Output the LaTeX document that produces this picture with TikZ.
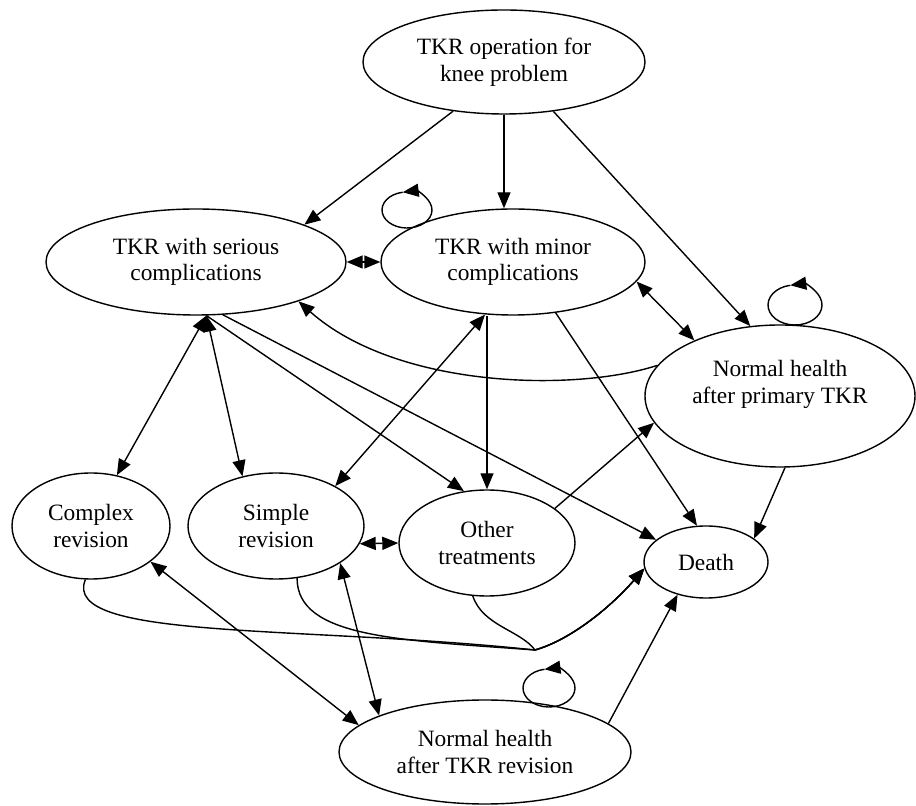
\documentclass[tikz,border=0pt]{standalone}
\usepackage{fontspec}
\setmainfont{Liberation Serif}
\usetikzlibrary{shapes.geometric,arrows.meta}

\begin{document}
\begin{tikzpicture}[x=0.5pt,y=-0.5pt, line width=0.7pt,
    >={Triangle[length=8pt,width=6.5pt]},
    state/.style={ellipse, draw, inner sep=0pt, align=center, font=\fontsize{11.7pt}{13.3pt}\selectfont},]
    \useasboundingbox (0,0) rectangle (916,806);
    %Nodes
    \node[state, minimum width=141pt, minimum height=52pt] (op) at (504,62) {TKR operation for\\knee problem};
    \node[state, minimum width=150pt, minimum height=53pt] (serious) at (196,262) {TKR with serious\\complications};
    \node[state, minimum width=132pt, minimum height=53pt] (minor) at (513,262) {TKR with minor\\complications};
    \node[state, minimum width=135pt, minimum height=71pt] (primary) at (780,396) {Normal health\\after primary TKR\rule[-14pt]{0pt}{0pt}};
    \node[state, minimum width=79pt, minimum height=53pt] (complex) at (91,526) {Complex\\revision};
    \node[state, minimum width=88pt, minimum height=53pt] (simple) at (276,526) {Simple\\revision};
    \node[state, minimum width=88pt, minimum height=53pt] (other) at (487,543) {Other\\treatments};
    \node[state, minimum width=62pt, minimum height=36pt] (death) at (706,562) {Death};
    \node[state, minimum width=146pt, minimum height=52pt] (revision) at (485,752) {Normal health\\after TKR revision};
    \coordinate (minorloop) at (407,210);
    \coordinate (primaryloop) at (795,305);
    \coordinate (revisionloop) at (549,688);
    \coordinate (joint) at (535,650);

    %Lines
    \draw[->] (op.224) -- (serious.19);
    \draw[->] (op.south) -- (op.south |- minor.north);
    \draw[->] (op.-45) -- (primary.113);
    \draw[<->] (serious.east) -- (minor.west);
    \draw[<->] (minor.-9) -- (primary.147);
    \draw[->] (primary.166) .. controls +(-83,27) and +(98,87) .. (serious.-21);
    \draw[<->] (serious.-79) -- (complex.63);
    \draw[<->] (serious.-79) -- (simple.124);
    \draw[->] (serious.-79) -- (other.114);
    \draw[->] (serious.-63) -- (death.156);
    \draw[<->] (minor.-118) -- (simple.34);
    \draw[->] (other.north |- minor.south) -- (other.north);
    \draw[->] (minor.-50) -- (death.104);
    \draw[->] (primary.-86) -- (death.26);
    \draw[->] (other.27) -- (primary.192);
    \draw[<->] (simple.-12) -- (other.west);
    \draw[<->] (complex.-31) -- (revision.168);
    \draw[<->] (simple.-30) -- (revision.161);
    \draw[->] (revision.13) -- (death.-131);

    % curves into death
    \draw[->] (complex.-96) .. controls +(-25,61) and +(-235,-25) .. (joint) .. controls +(35,-10) and +(-35,40) .. (death.186);
    \draw[->] (simple.-68) .. controls +(0,60) and +(-135,-10) .. (joint) .. controls +(35,-10) and +(-35,40) .. (death.186);
    \draw[->] (other.-105) .. controls +(10,30) and +(-15,-20) .. (joint) .. controls +(35,-10) and +(-35,40) .. (death.186);

    % self loops
    \draw[->] ([shift={(260:25 and 18)}]minorloop) arc[start angle=260, end angle=-100, x radius=25, y radius=18];
    \draw[->] ([shift={(260:27 and 20)}]primaryloop) arc[start angle=260, end angle=-100, x radius=27, y radius=20];
    \draw[->] ([shift={(260:26 and 19)}]revisionloop) arc[start angle=260, end angle=-100, x radius=26, y radius=19];
\end{tikzpicture}
\end{document}
